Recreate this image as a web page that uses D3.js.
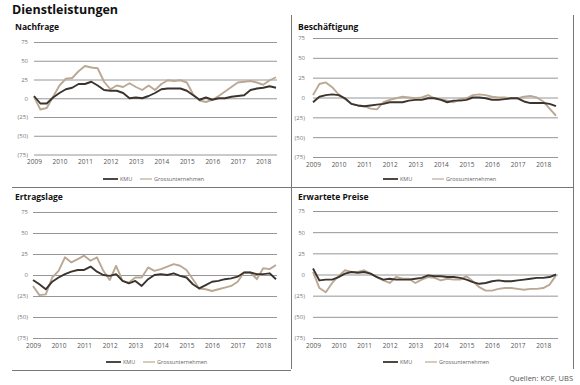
<!DOCTYPE html>
<html><head><meta charset="utf-8">
<script src="https://cdn.jsdelivr.net/npm/d3@7"></script>
<style>body{margin:0;background:#fff}svg{display:block;font-family:"Open Sans",sans-serif}</style>
</head><body><svg id="c" width="580" height="385"></svg>
<script>
const years = [2009,2010,2011,2012,2013,2014,2015,2016,2017,2018];
const yTicks = [75,50,25,0,-25,-50,-75];
const quarters = d3.range(39).map(i => 2009 + i / 4);
const seriesNames = ["KMU", "Grossunternehmen"];

const nachfrageKMU   = [3,-7,-7,1,7,12,14,19,19,22,17,11,10,10,7,0,1,0,3,7,12,13,13,13,10,4,-2,1,-2,0,0,2,3,4,11,13,14,16,14];
const nachfrageGross = [2,-15,-13,2,17,26,27,36,43,41,40,22,12,17,15,20,15,11,17,11,19,24,23,24,21,5,-3,-5,-2,3,9,15,21,22,23,21,18,24,28];
const beschKMU   = [-6,1,3,4,3,-1,-8,-10,-11,-10,-9,-8,-6,-6,-6,-4,-3,-3,-1,-1,-3,-6,-4,-4,-3,0,0,-1,-3,-3,-2,-1,-1,-5,-7,-7,-7,-8,-11];
const beschGross = [3,17,19,13,4,-2,-8,-10,-11,-14,-15,-6,-3,-1,1,0,-1,0,3,-1,-2,-4,-6,-2,-1,3,4,3,1,0,0,-1,-1,1,2,0,-5,-14,-23];
const ertragKMU   = [-6,-11,-17,-8,-3,1,4,6,6,10,4,0,-1,1,-7,-10,-7,-13,-5,0,1,0,2,-1,-3,-11,-16,-12,-8,-7,-5,-4,-2,3,3,1,1,2,-5];
const ertragGross = [-13,-24,-23,-3,5,21,15,19,23,17,21,5,-6,11,-7,-9,-3,-3,9,5,7,10,13,11,6,-5,-16,-17,-19,-17,-15,-13,-8,3,3,-5,8,7,12];
const preiseKMU   = [7,-7,-6,-6,-3,1,3,2,3,1,-3,-6,-5,-6,-6,-6,-5,-4,-1,-2,-2,-3,-3,-4,-6,-9,-11,-10,-8,-7,-8,-8,-7,-6,-5,-4,-4,-3,0];
const preiseGross = [3,-16,-21,-10,-2,5,3,3,5,1,-3,-7,-10,-3,-5,-5,-10,-6,-3,-4,-7,-5,-6,-6,-2,-8,-15,-19,-19,-17,-16,-16,-17,-18,-17,-17,-16,-12,-1];

const colors = {KMU: "#3b332d", Grossunternehmen: "#bba894"};

const panels = [
  {title:"Nachfrage", kmu:nachfrageKMU, gross:nachfrageGross, tx:15, ty:30, x:[34,276], y:[42,154.5], gx1:277, lx:28, yearY:165, legY:179, leg:[103,140]},
  {title:"Beschäftigung", kmu:beschKMU, gross:beschGross, tx:298, ty:30, x:[313,556], y:[38,157], gx1:558, lx:305, yearY:168, legY:179, leg:[383,432]},
  {title:"Ertragslage", kmu:ertragKMU, gross:ertragGross, tx:15, ty:200, x:[33,276], y:[212,338], gx1:277, lx:28, yearY:349, legY:362, leg:[106,143]},
  {title:"Erwartete Preise", kmu:preiseKMU, gross:preiseGross, tx:298, ty:200, x:[313,556], y:[211,338], gx1:558, lx:305, yearY:349, legY:362, leg:[383,425]}
];

const svg = d3.select("#c");

svg.append("text").attr("x", 12).attr("y", 14).attr("font-size", 12.5).attr("font-weight", 700)
  .attr("fill", "#111").text("Dienstleistungen");

// frame lines
const frame = svg.append("g").attr("stroke", "#777").attr("stroke-width", 1);
frame.append("line").attr("x1", 12).attr("x2", 573).attr("y1", 187.5).attr("y2", 187.5);
frame.append("line").attr("x1", 12).attr("x2", 291).attr("y1", 370.5).attr("y2", 370.5);
frame.append("line").attr("x1", 291.5).attr("x2", 291.5).attr("y1", 15).attr("y2", 369);
frame.append("line").attr("x1", 573.5).attr("x2", 573.5).attr("y1", 15).attr("y2", 369);

const fmt = v => v < 0 ? "(" + Math.abs(v) + ")" : String(v);

panels.forEach(p => {
  const x = d3.scaleLinear().domain([2009, 2018.5]).range(p.x);
  const y = d3.scaleLinear().domain([75, -75]).range(p.y);
  const g = svg.append("g");

  g.append("text").attr("x", p.tx).attr("y", p.ty).attr("font-size", 8.5).attr("font-weight", 700)
    .attr("fill", "#111").text(p.title);

  // grid
  const grid = g.append("g").attr("transform", `translate(${p.gx1},0)`)
    .call(d3.axisLeft(y).tickValues(yTicks).tickSize(p.gx1 - p.x[0]).tickFormat(""));
  grid.select(".domain").remove();
  grid.selectAll("line").attr("stroke", "#8a8a8a").attr("stroke-width", 0.9);

  // y labels
  const ya = g.append("g").attr("transform", `translate(${p.lx},0)`)
    .call(d3.axisLeft(y).tickValues(yTicks).tickSize(0).tickPadding(0).tickFormat(fmt));
  ya.select(".domain").remove();
  ya.selectAll("text").attr("font-size", 6).attr("fill", "#777").attr("font-family", "'Open Sans',sans-serif");

  // x labels
  const xa = g.append("g").attr("transform", `translate(0,${p.yearY - 6})`)
    .call(d3.axisBottom(x).tickValues(years).tickSize(0).tickPadding(0).tickFormat(d3.format("d")));
  xa.select(".domain").remove();
  xa.selectAll("text").attr("font-size", 6.5).attr("fill", "#555").attr("font-family", "'Open Sans',sans-serif");

  const line = d3.line().x((d, i) => x(quarters[i])).y(d => y(d));
  [["Grossunternehmen", p.gross], ["KMU", p.kmu]].forEach(([n, data]) => {
    g.append("path").datum(data).attr("d", line).attr("fill", "none")
      .attr("stroke", colors[n]).attr("stroke-width", 1.9).attr("stroke-linejoin", "round");
  });

  // legend
  seriesNames.forEach((n, k) => {
    const lx = p.leg[k];
    const w = k === 0 ? 15 : 12;
    g.append("line").attr("x1", lx).attr("x2", lx + w).attr("y1", p.legY).attr("y2", p.legY)
      .attr("stroke", colors[n]).attr("stroke-width", k === 0 ? 1.8 : 1.2);
    g.append("text").attr("x", lx + w + 2).attr("y", p.legY + 2).attr("font-size", 5.5)
      .attr("fill", "#666").text(n);
  });
});

svg.append("text").attr("x", 573).attr("y", 381).attr("text-anchor", "end").attr("font-size", 7.5)
  .attr("fill", "#555").text("Quellen: KOF, UBS");
</script></body></html>
